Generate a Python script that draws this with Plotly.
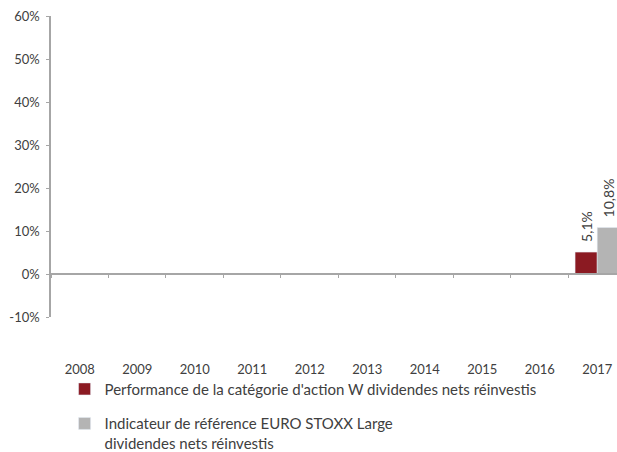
import plotly.graph_objects as go

years = ["2008", "2009", "2010", "2011", "2012", "2013", "2014", "2015", "2016", "2017"]
fund = [None, None, None, None, None, None, None, None, None, 5.1]
index = [None, None, None, None, None, None, None, None, None, 10.8]
fund_labels = ["", "", "", "", "", "", "", "", "", "5,1%"]
index_labels = ["", "", "", "", "", "", "", "", "", "10,8%"]
fund_name = "Performance de la catégorie d'action W dividendes nets réinvestis"
index_name = "Indicateur de référence EURO STOXX Large<br>dividendes nets réinvestis"
y_ticks = [-10, 0, 10, 20, 30, 40, 50, 60]

FONT = "Lato"
TXT = "#404040"
AX = "#a6a6a6"
PAD = "\u00a0\u00a0"

fig = go.Figure()
fig.add_bar(x=years, y=fund, name=fund_name, marker_color="#8b1a22",
            text=[PAD + t if t else "" for t in fund_labels],
            textposition="outside", textangle=-90, cliponaxis=False,
            constraintext="none",
            textfont=dict(family=FONT, size=14, color=TXT), legendgroup="a")
fig.add_bar(x=years, y=index, name=index_name, marker_color="#b4b4b4",
            text=[PAD + t if t else "" for t in index_labels],
            textposition="outside", textangle=-90, cliponaxis=False,
            constraintext="none",
            textfont=dict(family=FONT, size=14, color=TXT), legendgroup="b")

fig.update_layout(
    width=617, height=452,
    margin=dict(l=51, r=0, t=16, b=135, autoexpand=False),
    plot_bgcolor="white", paper_bgcolor="white",
    barmode="group", bargap=0.23, bargroupgap=0,
    font=dict(family=FONT, size=13, color=TXT),
    showlegend=True,
    legend=dict(x=0.024, xanchor="left", y=-0.185, yanchor="top",
                orientation="v", tracegroupgap=12, itemwidth=30, valign="top",
                font=dict(family=FONT, size=15, color=TXT),
                bgcolor="rgba(0,0,0,0)"),
    xaxis=dict(type="category", range=[-0.5, 9.344], anchor="free", position=1/7,
               automargin=False, ticklabeloverflow="allow",
               showline=True, linecolor=AX, linewidth=1.5,
               ticks="outside", ticklen=3, tickcolor=AX, tickson="boundaries",
               ticklabelstandoff=84, showgrid=False,
               tickfont=dict(family=FONT, size=13, color=TXT)),
    yaxis=dict(range=[-10, 60], tickvals=y_ticks, automargin=False,
               ticktext=[f"{v}%" for v in y_ticks], ticklabeloverflow="allow",
               showline=True, linecolor=AX, linewidth=1.5,
               ticks="outside", ticklen=3, tickcolor=AX, ticklabelstandoff=4,
               showgrid=False, zeroline=False,
               tickfont=dict(family=FONT, size=13, color=TXT)),
)

fig.write_html("out.html", config={"displayModeBar": False},
               post_script="document.body.style.margin='0';document.body.style.overflow='hidden';")
